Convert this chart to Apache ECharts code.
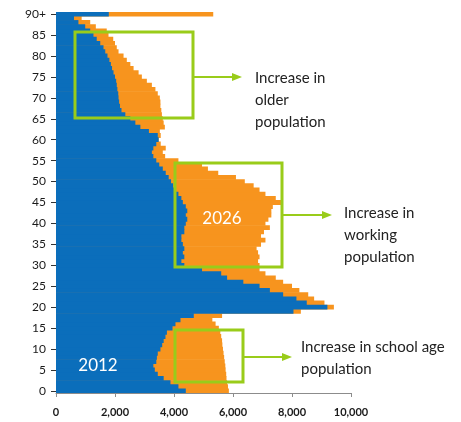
<!DOCTYPE html>
<html>
<head>
<meta charset="utf-8">
<script src="https://cdn.jsdelivr.net/npm/echarts@6/dist/echarts.min.js"></script>
<style>
html, body { margin: 0; padding: 0; background: #fff; }
#main { width: 461px; height: 422px; }
</style>
</head>
<body>
<div id="main"></div>
<script>
// age bands 0..89 then 90+
var ages = [];
for (var i = 0; i < 90; i++) ages.push(String(i));
ages.push('90+');

// population 2012 (blue)
var pop2012 = [
    4400, 4150, 3880, 3650, 3450, 3350, 3300, 3400, 3420, 3450,
    3540, 3600, 3650, 3710, 3760, 3950, 4050, 4220, 4670, 8050,
    9200, 8500, 8150, 7700, 7250, 6900, 6350, 5800, 5600, 4950,
    4350, 4250, 4350, 4300, 4350, 4300, 4250, 4250, 4350, 4350,
    4400, 4450, 4400, 4450, 4400, 4300, 4250, 4150, 4050, 3970,
    3900, 3820, 3720, 3620, 3500, 3400, 3300, 3250, 3300, 3400,
    3480, 3450, 3150, 2860, 2690, 2520, 2350, 2220, 2170, 2140,
    2120, 2110, 2080, 2060, 2040, 2000, 1950, 1900, 1860, 1810,
    1745, 1670, 1610, 1500, 1380, 1270, 1160, 990, 760, 610,
    1790
];

// population 2026 (orange, drawn behind the 2012 bars)
var pop2026 = [
    5860, 5830, 5800, 5780, 5770, 5750, 5740, 5720, 5700, 5680,
    5660, 5640, 5630, 5600, 5570, 5520, 5410, 5300, 5630, 8300,
    9420, 9100, 8750, 8550, 8250, 8000, 7700, 7450, 7100, 6900,
    6900, 6850, 6900, 6850, 6800, 6950, 7100, 6950, 7050, 7250,
    7100, 7200, 7300, 7300, 7350, 7650, 7450, 7100, 6900, 6700,
    6400, 6100, 5500, 5150, 4950, 4150, 3700, 3620, 3720, 3550,
    3480, 3550, 3520, 3690, 3650, 3620, 3590, 3570, 3540, 3540,
    3520, 3450, 3370, 3250, 3080, 2910, 2800, 2630, 2520, 2400,
    2290, 2120, 2060, 2000, 1940, 1780, 1720, 1350, 1160, 870,
    5330
];

var green = '#99CC1A';
var font = 'Lato, "Open Sans", sans-serif';

// box + arrow + label for each note
function note(box, arrowY, arrowEnd, textX, textY, txt) {
    return [
        {
            type: 'rect', z: 100,
            shape: { x: box[0], y: box[1], width: box[2], height: box[3] },
            style: { fill: 'none', stroke: green, lineWidth: 3 }
        },
        {
            type: 'line', z: 100,
            shape: { x1: box[0] + box[2], y1: arrowY, x2: arrowEnd - 8, y2: arrowY },
            style: { stroke: green, lineWidth: 2 }
        },
        {
            type: 'polygon', z: 100,
            shape: { points: [[arrowEnd - 10, arrowY - 4], [arrowEnd, arrowY], [arrowEnd - 10, arrowY + 4]] },
            style: { fill: green }
        },
        {
            type: 'text', z: 100,
            style: {
                text: txt, x: textX, y: textY, fill: '#222',
                font: '15px ' + font, lineHeight: 22, verticalAlign: 'top'
            }
        }
    ];
}

var myChart = echarts.init(document.getElementById('main'));
myChart.setOption({
    animation: false,
    grid: { left: 56, right: 110, top: 12, bottom: 29 },
    xAxis: {
        type: 'value',
        min: 0,
        max: 10000,
        interval: 2000,
        splitLine: { show: false },
        axisLine: { show: true, lineStyle: { color: '#8c8c8c', width: 1 } },
        axisTick: { show: true, length: 4, lineStyle: { color: '#8c8c8c' } },
        axisLabel: {
            margin: 14,
            color: '#1a1a1a',
            fontFamily: font,
            fontWeight: 'bold',
            fontSize: 11,
            formatter: function (v) { return v.toLocaleString('en-US'); }
        }
    },
    yAxis: {
        type: 'category',
        data: ages,
        axisLine: { show: false },
        axisTick: { show: true, alignWithLabel: true, interval: 4, length: 5, lineStyle: { color: '#333' } },
        axisLabel: { interval: 4, margin: 10, color: '#1a1a1a', fontFamily: font, fontSize: 12 }
    },
    series: [
        {
            name: '2026',
            type: 'bar',
            data: pop2026,
            barGap: '-100%',
            barWidth: 4.8,
            itemStyle: { color: '#F7941E' }
        },
        {
            name: '2012',
            type: 'bar',
            data: pop2012,
            barGap: '-100%',
            barWidth: 4.8,
            itemStyle: { color: '#0B6EBB' }
        }
    ],
    graphic: [].concat(
        note([75, 32, 118, 86], 77, 242, 255, 67, 'Increase in\nolder\npopulation'),
        note([175, 163, 107, 104], 215, 332, 344, 202, 'Increase in\nworking\npopulation'),
        note([175, 330, 68, 52], 357, 292, 301, 336, 'Increase in school age\npopulation'),
        [
            {
                type: 'text', z: 101,
                style: { text: '2026', x: 222, y: 219, fill: '#fff', font: '17px ' + font, align: 'center', verticalAlign: 'middle' }
            },
            {
                type: 'text', z: 101,
                style: { text: '2012', x: 98, y: 366, fill: '#fff', font: '17px ' + font, align: 'center', verticalAlign: 'middle' }
            }
        ]
    )
});
</script>
</body>
</html>
